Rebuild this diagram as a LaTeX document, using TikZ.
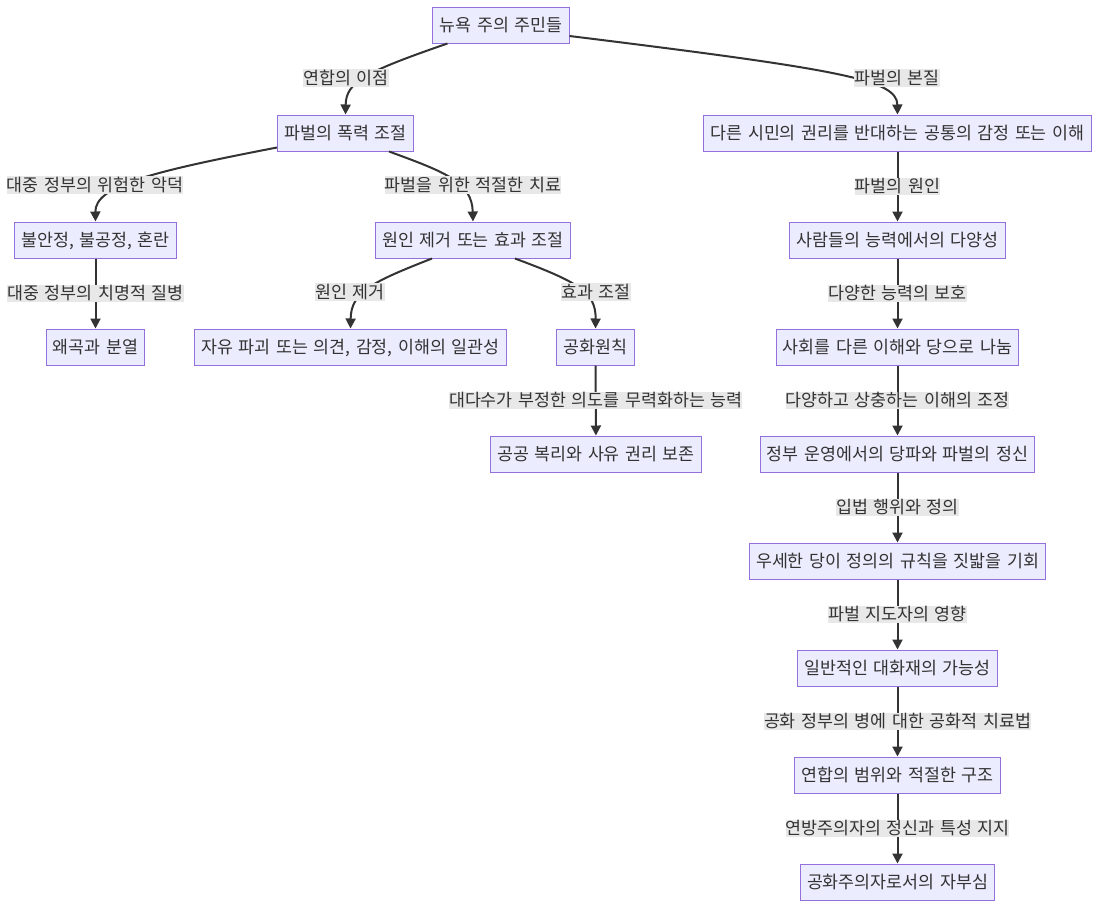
\documentclass[tikz,border=0pt]{standalone}
\usepackage{fontspec}
\setmainfont[WordSpace={1.43,0,0}]{Noto Sans CJK KR}
\usetikzlibrary{arrows.meta,calc}
\definecolor{nfill}{HTML}{ECECFF}
\definecolor{nborder}{HTML}{9370DB}
\definecolor{txt}{HTML}{333333}
\definecolor{lbg}{HTML}{E8E8E8}
\begin{document}
\begin{tikzpicture}[x=0.75pt,y=-0.75pt,
  box/.style={draw=nborder,fill=nfill,line width=0.75pt,text=txt,
    font=\fontsize{13}{14}\selectfont,inner xsep=5pt,inner ysep=0pt,
    minimum height=27pt,text height=11pt,text depth=1.4pt},
  elabel/.style={fill=lbg,text=txt,font=\fontsize{13}{14}\selectfont,
    inner xsep=0pt,inner ysep=0.4pt,text height=11pt,text depth=1.6pt},
  edge/.style={draw=txt,line width=1.5pt,-{Triangle[length=7.5pt,width=7.5pt]}}]
\useasboundingbox (0,0) rectangle (1098,908);
\fill[white] (0,0) rectangle (1098,908);
% nodes
\node[box] (n1) at (501,25) {뉴욕 주의 주민들};
\node[box] (n2) at (345.5,133) {파벌의 폭력 조절};
\node[box] (n3) at (897.5,133) {다른 시민의 권리를 반대하는 공통의 감정 또는 이해};
\node[box] (n4) at (95.5,240) {불안정, 불공정, 혼란};
\node[box] (n5) at (473,240) {원인 제거 또는 효과 조절};
\node[box] (n6) at (897.5,240) {사람들의 능력에서의 다양성};
\node[box] (n7) at (95.5,347) {왜곡과 분열};
\node[box] (n8) at (350.5,347) {자유 파괴 또는 의견, 감정, 이해의 일관성};
\node[box] (n9) at (595.5,347) {공화원칙};
\node[box] (n10) at (897.5,347) {사회를 다른 이해와 당으로 나눔};
\node[box] (n11) at (596,454) {공공 복리와 사유 권리 보존};
\node[box] (n12) at (897.5,454) {정부 운영에서의 당파와 파벌의 정신};
\node[box] (n13) at (897.5,561) {우세한 당이 정의의 규칙을 짓밟을 기회};
\node[box] (n14) at (897.5,668) {일반적인 대화재의 가능성};
\node[box] (n15) at (897.5,775) {연합의 범위와 적절한 구조};
\node[box] (n16) at (897.5,882) {공화주의자로서의 자부심};
% curved edges
\draw[edge] ($(n1.south west)+(15,0)$) .. controls (365,72) and (346,82) .. (n2.north);
\draw[edge] ($(n1.east)+(0,11)$) .. controls (845,70) and (897,80) .. (n3.north);
\draw[edge] ($(n2.south west)+(0,-4)$) .. controls (150,172) and (95,186) .. (n4.north);
\draw[edge] ($(n2.south east)+(-25,0)$) .. controls (445,172) and (472,182) .. (n5.north);
\draw[edge] ($(n5.south)+(-41,0)$) .. controls (372,282) and (351,292) .. (n8.north);
\draw[edge] ($(n5.south)+(42,0)$) .. controls (578,282) and (596,292) .. (n9.north);
\node[elabel] (l1) at (346,78) {연합의 이점};
\node[elabel] (l2) at (897,78) {파벌의 본질};
\node[elabel] (l3) at (95,185) {대중 정부의 위험한 악덕};
\node[elabel] (l4) at (473,185) {파벌을 위한 적절한 치료};
\node[elabel] (l5) at (350,292) {원인 제거};
\node[elabel] (l6) at (596,292) {효과 조절};
% straight edges
\draw[edge] (n4) -- node[elabel] (l7) {대중 정부의 치명적 질병} (n7);
\draw[edge] (n9) -- node[elabel] (l8) {대다수가 부정한 의도를 무력화하는 능력} (n11);
\draw[edge] (n3) -- node[elabel] (l9) {파벌의 원인} (n6);
\draw[edge] (n6) -- node[elabel] (l10) {다양한 능력의 보호} (n10);
\draw[edge] (n10) -- node[elabel] (l11) {다양하고 상충하는 이해의 조정} (n12);
\draw[edge] (n12) -- node[elabel] (l12) {입법 행위와 정의} (n13);
\draw[edge] (n13) -- node[elabel] (l13) {파벌 지도자의 영향} (n14);
\draw[edge] (n14) -- node[elabel] (l14) {공화 정부의 병에 대한 공화적 치료법} (n15);
\draw[edge] (n15) -- node[elabel] (l15) {연방주의자의 정신과 특성 지지} (n16);
\end{tikzpicture}
\end{document}
